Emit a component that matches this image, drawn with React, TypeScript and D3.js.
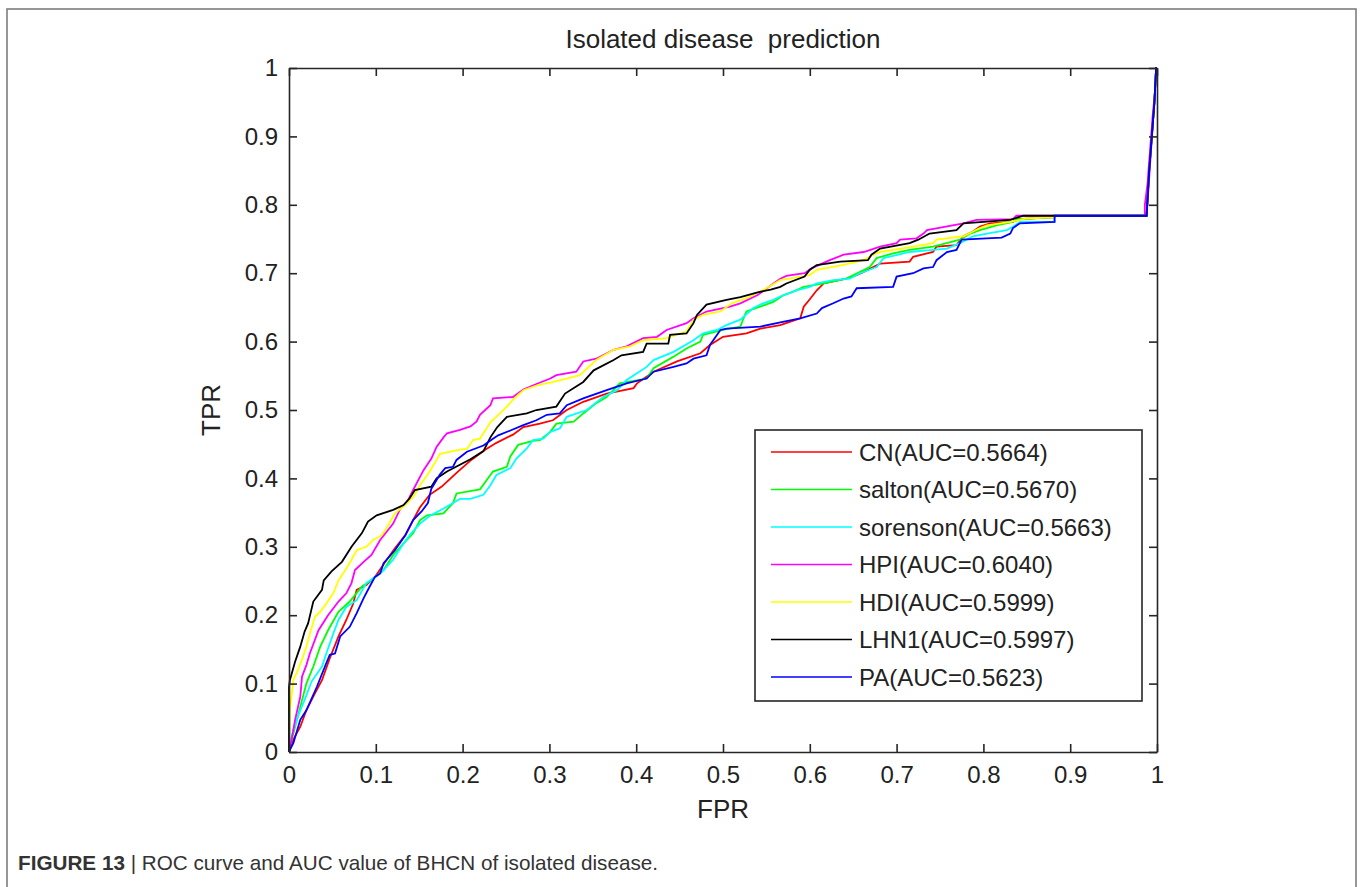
import React, { useEffect, useRef } from "react";
import * as d3 from "d3";

// ---- axis ticks ----
const xTicks = [0, 0.1, 0.2, 0.3, 0.4, 0.5, 0.6, 0.7, 0.8, 0.9, 1];
const yTicks = [0, 0.1, 0.2, 0.3, 0.4, 0.5, 0.6, 0.7, 0.8, 0.9, 1];
const tickLabels = ["0", "0.1", "0.2", "0.3", "0.4", "0.5", "0.6", "0.7", "0.8", "0.9", "1"];

// ---- series meta ----
const seriesNames = ["CN", "salton", "sorenson", "HPI", "HDI", "LHN1", "PA"];
const aucValues = ["0.5664", "0.5670", "0.5663", "0.6040", "0.5999", "0.5997", "0.5623"];
const seriesColors = ["#ff0000", "#00ff00", "#00ffff", "#ff00ff", "#ffff00", "#000000", "#0000ff"];

// ---- ROC points [FPR, TPR] ----
const cnRoc = [[0,0],[0.001,0.003],[0.005,0.018],[0.013,0.037],[0.020,0.061],[0.030,0.086],[0.038,0.105],[0.047,0.137],[0.057,0.169],[0.066,0.193],[0.074,0.217],[0.078,0.237],[0.089,0.244],[0.099,0.256],[0.111,0.278],[0.122,0.298],[0.134,0.317],[0.143,0.339],[0.151,0.358],[0.162,0.376],[0.176,0.388],[0.193,0.408],[0.210,0.427],[0.226,0.442],[0.239,0.452],[0.258,0.464],[0.270,0.475],[0.289,0.480],[0.304,0.485],[0.320,0.500],[0.339,0.512],[0.366,0.524],[0.397,0.532],[0.401,0.539],[0.420,0.556],[0.447,0.571],[0.474,0.583],[0.485,0.595],[0.500,0.607],[0.527,0.612],[0.543,0.619],[0.566,0.624],[0.589,0.634],[0.593,0.651],[0.600,0.662],[0.608,0.675],[0.616,0.685],[0.642,0.692],[0.654,0.697],[0.662,0.702],[0.681,0.714],[0.715,0.717],[0.719,0.724],[0.742,0.731],[0.746,0.739],[0.769,0.741],[0.777,0.754],[0.788,0.761],[0.796,0.768],[0.808,0.773],[0.834,0.775],[0.842,0.779],[0.882,0.782],[0.882,0.784]];
const saltonRoc = [[0,0],[0.001,0.008],[0.005,0.027],[0.013,0.066],[0.020,0.100],[0.028,0.125],[0.036,0.154],[0.045,0.178],[0.057,0.205],[0.070,0.220],[0.084,0.242],[0.095,0.251],[0.109,0.266],[0.120,0.288],[0.132,0.305],[0.143,0.320],[0.151,0.339],[0.159,0.346],[0.178,0.349],[0.189,0.364],[0.193,0.378],[0.220,0.384],[0.228,0.398],[0.235,0.410],[0.251,0.417],[0.255,0.432],[0.264,0.449],[0.281,0.455],[0.289,0.456],[0.301,0.468],[0.308,0.480],[0.328,0.483],[0.339,0.495],[0.354,0.510],[0.366,0.519],[0.381,0.539],[0.412,0.546],[0.420,0.561],[0.443,0.578],[0.458,0.590],[0.474,0.600],[0.477,0.610],[0.500,0.617],[0.520,0.622],[0.523,0.632],[0.527,0.644],[0.558,0.658],[0.570,0.668],[0.581,0.673],[0.593,0.680],[0.616,0.685],[0.642,0.692],[0.658,0.702],[0.669,0.709],[0.677,0.722],[0.696,0.729],[0.715,0.734],[0.742,0.739],[0.773,0.749],[0.785,0.758],[0.796,0.763],[0.815,0.770],[0.834,0.775],[0.838,0.779],[0.882,0.782],[0.882,0.784]];
const sorensonRoc = [[0,0],[0.001,0.013],[0.005,0.032],[0.013,0.061],[0.018,0.076],[0.026,0.103],[0.038,0.125],[0.043,0.144],[0.051,0.173],[0.057,0.193],[0.066,0.212],[0.078,0.222],[0.089,0.247],[0.105,0.261],[0.120,0.281],[0.132,0.305],[0.141,0.320],[0.151,0.334],[0.162,0.345],[0.178,0.356],[0.189,0.364],[0.197,0.370],[0.209,0.370],[0.224,0.376],[0.232,0.390],[0.239,0.405],[0.255,0.415],[0.262,0.429],[0.274,0.444],[0.281,0.456],[0.293,0.458],[0.301,0.468],[0.312,0.473],[0.320,0.490],[0.343,0.500],[0.362,0.519],[0.378,0.529],[0.389,0.544],[0.412,0.563],[0.420,0.573],[0.443,0.585],[0.466,0.602],[0.477,0.612],[0.493,0.617],[0.504,0.624],[0.520,0.632],[0.535,0.649],[0.546,0.656],[0.558,0.661],[0.566,0.666],[0.585,0.675],[0.600,0.680],[0.608,0.685],[0.627,0.690],[0.646,0.692],[0.658,0.700],[0.677,0.709],[0.685,0.722],[0.715,0.731],[0.742,0.734],[0.758,0.736],[0.773,0.744],[0.788,0.754],[0.804,0.758],[0.827,0.763],[0.834,0.768],[0.842,0.775],[0.882,0.775],[0.882,0.784]];
const hpiRoc = [[0,0],[0.003,0.018],[0.007,0.047],[0.013,0.081],[0.015,0.110],[0.020,0.127],[0.024,0.144],[0.034,0.178],[0.045,0.200],[0.057,0.220],[0.066,0.232],[0.072,0.247],[0.076,0.266],[0.086,0.278],[0.095,0.288],[0.105,0.310],[0.120,0.334],[0.128,0.355],[0.137,0.368],[0.143,0.383],[0.155,0.412],[0.164,0.429],[0.170,0.446],[0.178,0.460],[0.182,0.466],[0.197,0.471],[0.209,0.476],[0.216,0.483],[0.220,0.493],[0.232,0.507],[0.235,0.517],[0.258,0.519],[0.270,0.530],[0.285,0.538],[0.301,0.546],[0.308,0.551],[0.331,0.556],[0.339,0.571],[0.354,0.575],[0.374,0.588],[0.389,0.593],[0.408,0.605],[0.424,0.607],[0.435,0.617],[0.458,0.627],[0.466,0.634],[0.481,0.644],[0.508,0.651],[0.520,0.656],[0.540,0.668],[0.555,0.682],[0.566,0.692],[0.573,0.696],[0.594,0.700],[0.602,0.707],[0.623,0.719],[0.639,0.727],[0.662,0.731],[0.681,0.739],[0.700,0.744],[0.704,0.749],[0.723,0.751],[0.731,0.758],[0.735,0.763],[0.777,0.773],[0.792,0.778],[0.834,0.779],[0.838,0.784],[0.986,0.784],[0.986,0.80],[0.989,0.83],[0.992,0.88],[0.995,0.93],[0.998,0.97]];
const hdiRoc = [[0,0],[0.001,0.061],[0.005,0.105],[0.011,0.122],[0.015,0.135],[0.020,0.154],[0.024,0.173],[0.030,0.198],[0.036,0.205],[0.043,0.217],[0.051,0.232],[0.057,0.251],[0.066,0.268],[0.072,0.281],[0.078,0.295],[0.089,0.300],[0.097,0.310],[0.107,0.317],[0.113,0.329],[0.122,0.349],[0.134,0.361],[0.143,0.373],[0.151,0.390],[0.162,0.410],[0.174,0.436],[0.197,0.442],[0.205,0.443],[0.212,0.456],[0.220,0.458],[0.232,0.482],[0.243,0.495],[0.251,0.505],[0.258,0.515],[0.270,0.529],[0.281,0.534],[0.289,0.537],[0.301,0.540],[0.320,0.546],[0.335,0.551],[0.354,0.573],[0.374,0.588],[0.393,0.593],[0.408,0.602],[0.435,0.605],[0.458,0.615],[0.466,0.632],[0.477,0.639],[0.497,0.644],[0.510,0.656],[0.530,0.665],[0.550,0.678],[0.566,0.690],[0.600,0.697],[0.608,0.705],[0.639,0.712],[0.662,0.719],[0.673,0.727],[0.681,0.731],[0.719,0.739],[0.742,0.744],[0.746,0.749],[0.777,0.754],[0.796,0.766],[0.804,0.770],[0.831,0.775],[0.850,0.780],[0.882,0.782],[0.882,0.784]];
const lhn1Roc = [[0,0],[0,0.095],[0.001,0.105],[0.007,0.132],[0.013,0.154],[0.018,0.176],[0.022,0.188],[0.028,0.220],[0.038,0.237],[0.040,0.251],[0.049,0.264],[0.061,0.278],[0.072,0.300],[0.084,0.320],[0.091,0.337],[0.101,0.346],[0.120,0.354],[0.132,0.361],[0.139,0.371],[0.145,0.383],[0.164,0.388],[0.170,0.400],[0.182,0.410],[0.209,0.428],[0.224,0.440],[0.232,0.460],[0.240,0.475],[0.251,0.490],[0.274,0.495],[0.285,0.500],[0.308,0.505],[0.318,0.524],[0.339,0.541],[0.351,0.558],[0.374,0.573],[0.383,0.580],[0.408,0.585],[0.412,0.597],[0.437,0.597],[0.439,0.610],[0.458,0.612],[0.466,0.627],[0.470,0.639],[0.481,0.654],[0.504,0.661],[0.520,0.665],[0.540,0.672],[0.555,0.676],[0.566,0.680],[0.573,0.685],[0.594,0.695],[0.600,0.705],[0.608,0.712],[0.635,0.717],[0.667,0.719],[0.671,0.727],[0.681,0.736],[0.715,0.744],[0.725,0.749],[0.738,0.758],[0.769,0.763],[0.777,0.773],[0.831,0.778],[0.846,0.784]];
const paRoc = [[0,0],[0.001,0.003],[0.005,0.013],[0.013,0.047],[0.020,0.061],[0.032,0.095],[0.043,0.130],[0.047,0.142],[0.053,0.144],[0.059,0.169],[0.070,0.183],[0.078,0.203],[0.086,0.225],[0.093,0.242],[0.099,0.256],[0.105,0.261],[0.109,0.276],[0.122,0.295],[0.134,0.317],[0.143,0.339],[0.153,0.352],[0.160,0.364],[0.164,0.385],[0.174,0.406],[0.180,0.415],[0.189,0.417],[0.193,0.427],[0.205,0.439],[0.224,0.448],[0.235,0.458],[0.241,0.463],[0.255,0.470],[0.270,0.478],[0.285,0.485],[0.297,0.493],[0.312,0.495],[0.320,0.507],[0.339,0.517],[0.366,0.529],[0.389,0.539],[0.412,0.546],[0.420,0.556],[0.443,0.563],[0.458,0.568],[0.466,0.575],[0.481,0.580],[0.485,0.595],[0.497,0.617],[0.504,0.619],[0.543,0.622],[0.566,0.628],[0.589,0.634],[0.608,0.641],[0.614,0.649],[0.627,0.656],[0.639,0.663],[0.648,0.666],[0.654,0.678],[0.696,0.680],[0.700,0.695],[0.719,0.700],[0.731,0.707],[0.742,0.709],[0.746,0.719],[0.758,0.731],[0.769,0.734],[0.775,0.749],[0.821,0.752],[0.831,0.758],[0.834,0.766],[0.842,0.773],[0.882,0.775],[0.882,0.784]];
// shared plateau and final jump to (1,1)
const rocTail = [[0.988,0.784],[0.991,0.85],[0.994,0.9],[0.997,0.95],[0.999,1.0],[1,1]];

const seriesData = [cnRoc, saltonRoc, sorensonRoc, hpiRoc, hdiRoc, lhn1Roc, paRoc];

const FONT = "'Liberation Sans', Arial, Helvetica, sans-serif";

export default function App() {
  const ref = useRef<SVGSVGElement | null>(null);

  useEffect(() => {
    const svg = d3.select(ref.current);
    svg.selectAll("*").remove();

    const W = 1360, H = 887;
    svg.append("rect").attr("width", W).attr("height", H).attr("fill", "#fff");

    // outer figure frame
    svg.append("rect").attr("x", 7).attr("y", 9).attr("width", 1349).attr("height", 900)
      .attr("fill", "none").attr("stroke", "#7d7d7d").attr("stroke-width", 1.6);

    const x = d3.scaleLinear().domain([0, 1]).range([289, 1157]);
    const y = d3.scaleLinear().domain([0, 1]).range([752, 68]);
    const axisColor = "#262626";

    // curves
    const line = d3.line<number[]>().x(d => x(d[0])).y(d => y(d[1]));
    const g = svg.append("g");
    seriesData.forEach((pts, i) => {
      g.append("path").attr("d", line(pts.concat(rocTail)) as string)
        .attr("fill", "none").attr("stroke", seriesColors[i]).attr("stroke-width", 1.8)
        .attr("stroke-linejoin", "miter");
    });

    const styleAxis = (sel: any) => {
      sel.select(".domain").attr("stroke", axisColor).attr("stroke-width", 1.6);
      sel.selectAll(".tick line").attr("stroke", axisColor).attr("stroke-width", 1.6);
      sel.selectAll(".tick text").attr("fill", "#222").attr("font-family", FONT).attr("font-size", 24);
    };

    const bottom = svg.append("g").attr("transform", `translate(0,${y(0)})`)
      .call(d3.axisBottom(x).tickValues(xTicks).tickFormat((d, i) => tickLabels[i]).tickSizeInner(-8).tickSizeOuter(0).tickPadding(14));
    styleAxis(bottom);
    const left = svg.append("g").attr("transform", `translate(${x(0)},0)`)
      .call(d3.axisLeft(y).tickValues(yTicks).tickFormat((d, i) => tickLabels[i]).tickSizeInner(-8).tickSizeOuter(0).tickPadding(11));
    styleAxis(left);
    const top = svg.append("g").attr("transform", `translate(0,${y(1)})`)
      .call(d3.axisTop(x).tickValues(xTicks).tickFormat(() => "").tickSizeInner(-8).tickSizeOuter(0));
    styleAxis(top);
    const right = svg.append("g").attr("transform", `translate(${x(1)},0)`)
      .call(d3.axisRight(y).tickValues(yTicks).tickFormat(() => "").tickSizeInner(-8).tickSizeOuter(0));
    styleAxis(right);

    // title and axis labels
    svg.append("text").attr("x", (x(0) + x(1)) / 2).attr("y", 48).attr("text-anchor", "middle")
      .attr("font-family", FONT).attr("font-size", 26).attr("fill", "#222")
      .attr("xml:space", "preserve").text("Isolated disease  prediction");
    svg.append("text").attr("x", (x(0) + x(1)) / 2).attr("y", 818).attr("text-anchor", "middle")
      .attr("font-family", FONT).attr("font-size", 26).attr("fill", "#222").text("FPR");
    svg.append("text").attr("transform", `translate(220,${(y(0) + y(1)) / 2}) rotate(-90)`).attr("text-anchor", "middle")
      .attr("font-family", FONT).attr("font-size", 26).attr("fill", "#222").text("TPR");

    // legend
    const lg = svg.append("g");
    lg.append("rect").attr("x", 755).attr("y", 430).attr("width", 387).attr("height", 271)
      .attr("fill", "#fff").attr("stroke", axisColor).attr("stroke-width", 1.6);
    seriesNames.forEach((name, i) => {
      const ry = 452 + i * 37.5;
      lg.append("line").attr("x1", 771).attr("x2", 852).attr("y1", ry).attr("y2", ry)
        .attr("stroke", seriesColors[i]).attr("stroke-width", 1.6);
      lg.append("text").attr("x", 859).attr("y", ry + 8.5)
        .attr("font-family", FONT).attr("font-size", 24).attr("fill", "#222")
        .text(`${name}(AUC=${aucValues[i]})`);
    });

    // caption
    const cap = svg.append("text").attr("x", 18).attr("y", 870)
      .attr("font-family", FONT).attr("font-size", 20.7).attr("fill", "#333");
    cap.append("tspan").attr("font-weight", "bold").text("FIGURE 13");
    cap.append("tspan").text(" | ROC curve and AUC value of BHCN of isolated disease.");
  }, []);

  return (
    <div style={{ position: "absolute", left: 0, top: 0 }}>
      <svg ref={ref} width={1360} height={887} style={{ display: "block" }} />
    </div>
  );
}
